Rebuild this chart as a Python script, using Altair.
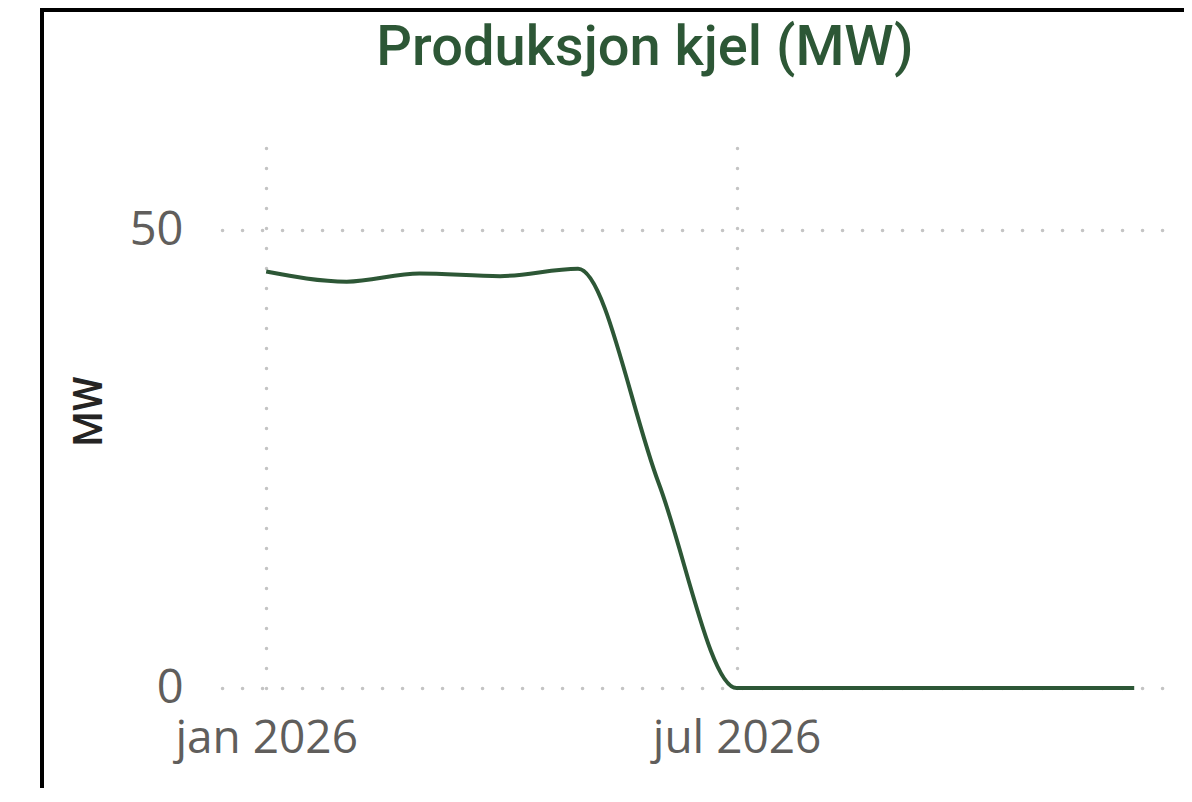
import altair as alt
import pandas as pd

# ---- data ----
months = ["2026-01-01", "2026-02-01", "2026-03-01", "2026-04-01", "2026-05-01", "2026-06-01",
          "2026-07-01", "2026-08-01", "2026-09-01", "2026-10-01", "2026-11-01", "2026-12-01"]
mw_values = [45.5, 44.4, 45.3, 45.0, 45.8, 22.4, 0, 0, 0, 0, 0, 0]
x_tick_months = [(2026, 1), (2026, 7)]
y_ticks = [0, 50]
chart_title = "Produksjon kjel (MW)"
y_title = "MW"

df = pd.DataFrame({"month": months, "mw": mw_values})

GREEN = "#2D5736"
GRID = "#C4C4C4"
LABEL = "#605E5C"

x_values = [alt.DateTime(year=y, month=m, date=1, utc=True) for y, m in x_tick_months]

line = alt.Chart(df).mark_line(
    color=GREEN, strokeWidth=4, interpolate="monotone", clip=False
).encode(
    x=alt.X(
        "month:T",
        scale=alt.Scale(
            type="utc",
            domain=[alt.DateTime(year=2025, month=12, date=15, utc=True),
                    alt.DateTime(year=2026, month=12, date=14, utc=True)],
        ),
        axis=alt.Axis(
            values=x_values,
            labelExpr="lower(utcFormat(datum.value, '%b %Y'))",
            title=None,
            domain=False,
            ticks=False,
            grid=True,
            gridColor=GRID,
            gridDash=[0.1, 19.9],
            gridCap="round",
            gridWidth=3.5,
            labelFont="Open Sans",
            labelFontSize=46,
            labelColor=LABEL,
            labelBaseline="alphabetic",
            labelPadding=64,
            labelFlush=False,
            labelOverlap=False,
            labelLimit=0,
        ),
    ),
    y=alt.Y(
        "mw:Q",
        scale=alt.Scale(domain=[0, 59], nice=False),
        axis=alt.Axis(
            values=y_ticks,
            title=y_title,
            titleFont="Roboto",
            titleFontSize=40,
            titleFontWeight=500,
            titleColor="#252423",
            titleAngle=270,
            titleBaseline="alphabetic",
            titleAlign="center",
            titleX=-121,
            titleY=263,
            domain=False,
            ticks=False,
            grid=True,
            gridColor=GRID,
            gridDash=[0.1, 19.9],
            gridCap="round",
            gridWidth=3.5,
            labelFont="Open Sans",
            labelFontSize=47,
            labelColor=LABEL,
            labelPadding=39,
            labelBaseline="middle",
            labelLimit=0,
        ),
    ),
)

one = pd.DataFrame({"k": [0]})
title_mark = alt.Chart(one).mark_text(
    text=chart_title,
    font="Roboto",
    fontSize=56,
    fontWeight=500,
    color=GREEN,
    align="center",
    baseline="alphabetic",
).encode(x=alt.value(423), y=alt.value(-83))

frame_top = alt.Chart(one).mark_rule(color="black", strokeWidth=4).encode(
    x=alt.value(-182), x2=alt.value(962), y=alt.value(-138)
)
frame_left = alt.Chart(one).mark_rule(color="black", strokeWidth=4).encode(
    x=alt.value(-180), y=alt.value(-140), y2=alt.value(660)
)

chart = alt.layer(line, title_mark, frame_top, frame_left).properties(
    width=946,
    height=540,
    autosize=alt.AutoSizeParams(type="none"),
    padding={"left": 214, "top": 140, "right": 16, "bottom": 100},
    background="white",
).configure_view(stroke=None)

chart.save("out.html", embed_options={"renderer": "svg", "actions": False})
